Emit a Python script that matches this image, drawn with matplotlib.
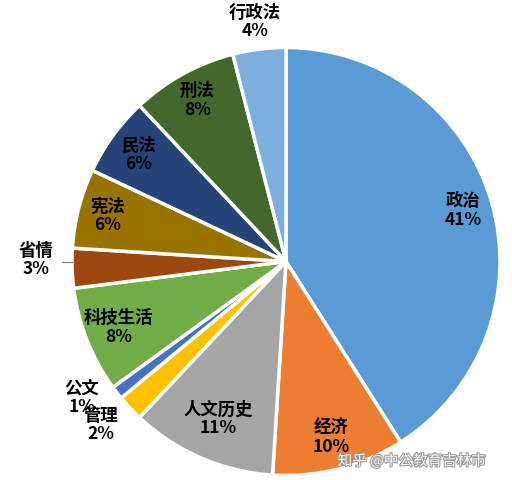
import numpy as np
import matplotlib
matplotlib.use("Agg")
import matplotlib.pyplot as plt
import matplotlib.patheffects as pe

plt.rcParams['font.family'] = ['Noto Sans CJK SC', 'DejaVu Sans']

categories = ["政治", "经济", "人文历史", "管理", "公文", "科技生活", "省情", "宪法", "民法", "刑法", "行政法"]
values = [41, 10, 11, 2, 1, 8, 3, 6, 6, 8, 4]
colors = ["#5B9BD5", "#ED7D31", "#A5A5A5", "#FFC000", "#4472C4", "#70AD47",
          "#9E480E", "#997300", "#264478", "#43682B", "#7CAFDD"]
label_r = [0.86, 0.85, 0.80, 1.16, 1.22, 0.84, 1.18, 0.86, 0.85, 0.86, 1.12]

fig = plt.figure(figsize=(5.12, 4.8), dpi=100)
ax = fig.add_axes([0, 0, 1, 1])

cx, cy, R = 286, 218.5, 214
wedges, _ = ax.pie(values, colors=colors, startangle=90, counterclock=False,
                   center=(cx, cy), radius=R, frame=True,
                   wedgeprops=dict(edgecolor='white', linewidth=2.5))
ax.set_xlim(0, 512)
ax.set_ylim(0, 480)
ax.axis('off')

for i, (w, name, v) in enumerate(zip(wedges, categories, values)):
    ang = np.deg2rad((w.theta1 + w.theta2) / 2)
    r = label_r[i] * R
    x = cx + r * np.cos(ang)
    y = cy + r * np.sin(ang)
    if name == "公文":
        x, y = 82, 480 - 398
    if name == "管理":
        x, y = 101, 480 - 425
    if name == "省情":
        x, y = 36, 480 - 260
        ax.plot([62, 72], [480 - 262, 480 - 262], color='#7f7f7f', lw=0.8)
    if name == "行政法":
        x, y = 255, 480 - 22
    bbox = dict(facecolor='white', edgecolor='none', pad=0.3) if name == "管理" else None
    ax.text(x, y, f"{name}\n{v}%", ha='center', va='center', fontsize=12.5,
            fontweight='bold', color='black', linespacing=1.05, bbox=bbox, zorder=5)

ax.text(412, 480 - 461, "知乎 @中公教育吉林市", ha='center', va='center', fontsize=10.5,
        color='#f4f4f4', zorder=6,
        path_effects=[pe.withStroke(linewidth=1.5, foreground='#9a9a9a')])

fig.savefig("out.png", dpi=100)
